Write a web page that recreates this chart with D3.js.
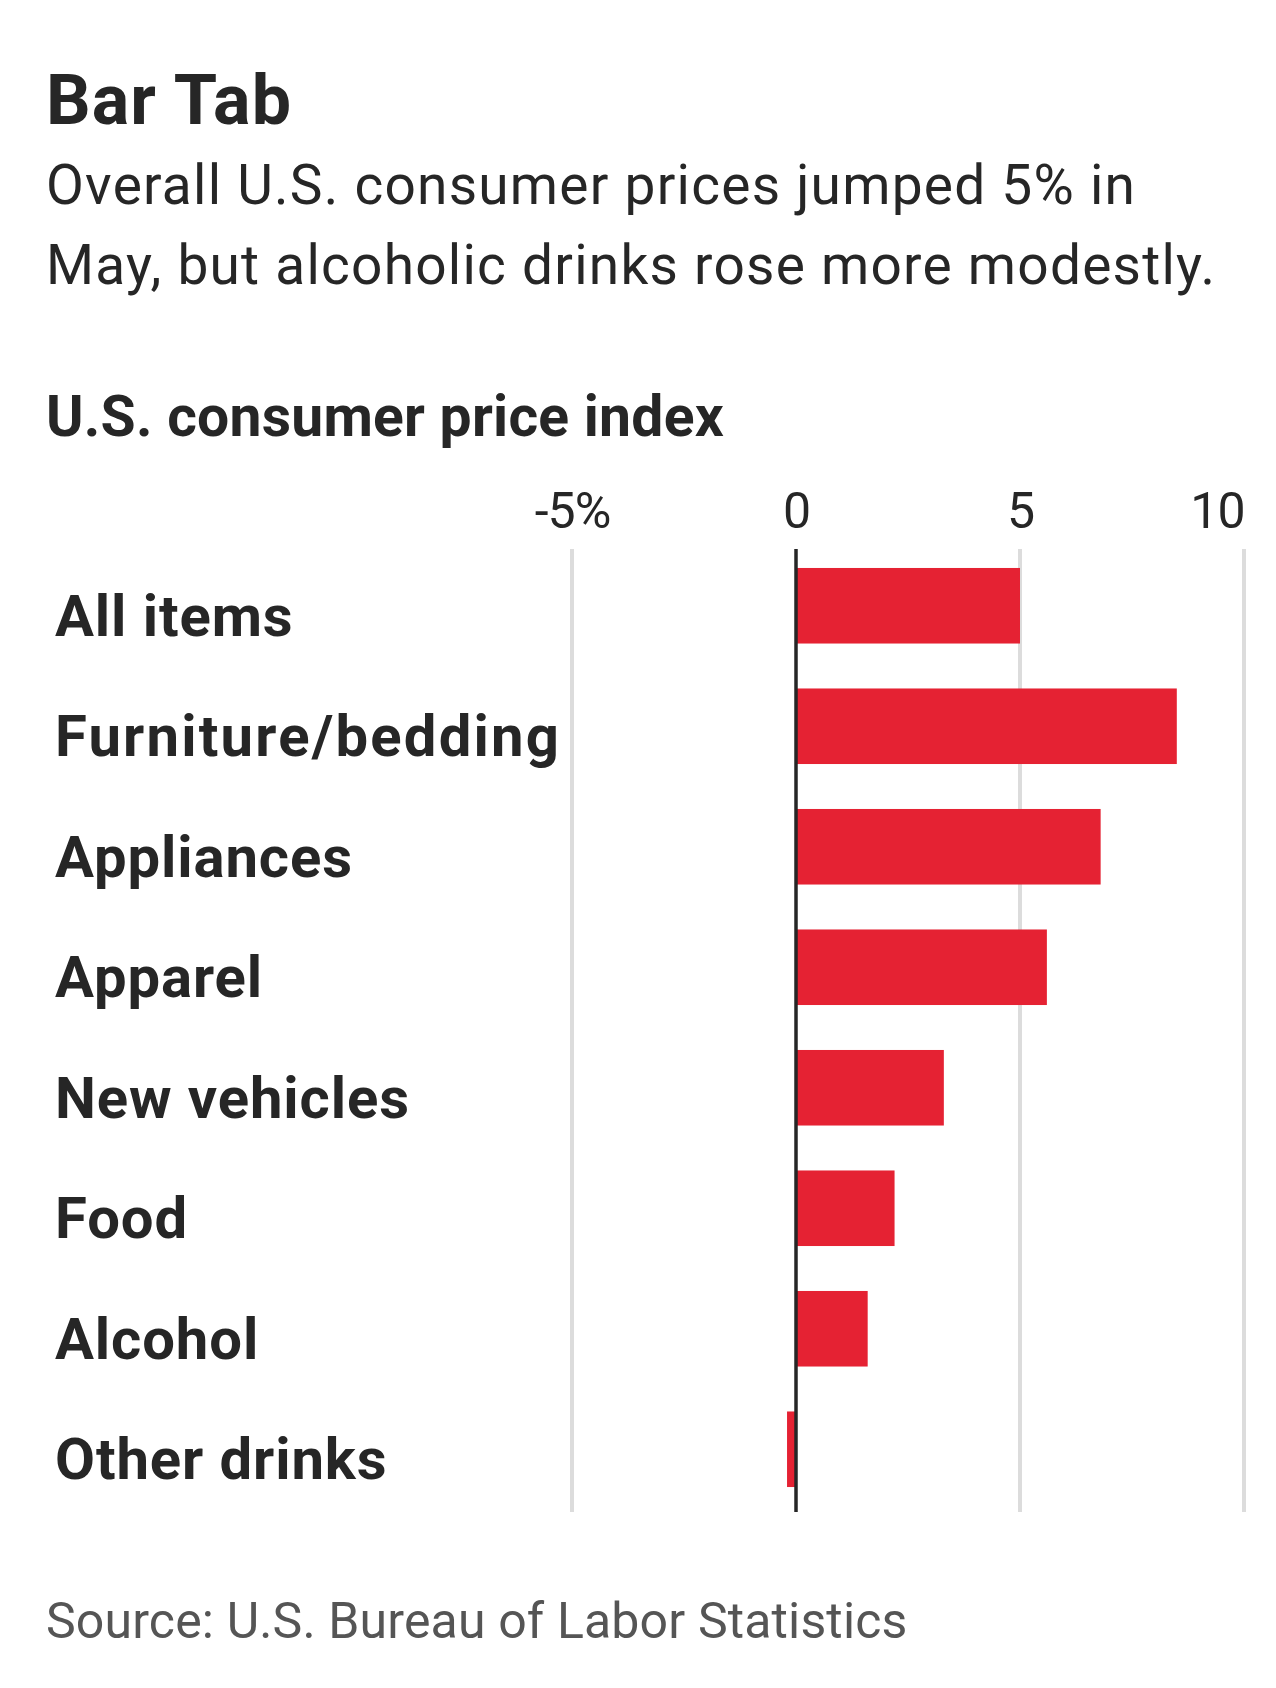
<!DOCTYPE html>
<html>
<head>
<meta charset="utf-8">
<script src="https://cdn.jsdelivr.net/npm/d3@7"></script>
<style>
  html, body { margin: 0; padding: 0; background: #fff; }
  svg text { font-family: Roboto, "Noto Sans", sans-serif; }
</style>
</head>
<body>
<svg id="chart" width="1276" height="1688"></svg>
<script>
const categories = ["All items", "Furniture/bedding", "Appliances", "Apparel", "New vehicles", "Food", "Alcohol", "Other drinks"];
const values = [5.0, 8.5, 6.8, 5.6, 3.3, 2.2, 1.6, -0.2];
const tickValues = [-5, 0, 5, 10];
const tickLabels = ["-5%", "0", "5", "10"];
const title = "Bar Tab";
const subtitleLines = ["Overall U.S. consumer prices jumped 5% in", "May, but alcoholic drinks rose more modestly."];
const chartHeading = "U.S. consumer price index";
const source = "Source: U.S. Bureau of Labor Statistics";

const svg = d3.select("#chart");
const ink = "#262626";
const red = "#e52233";

svg.append("text").attr("x", 46).attr("y", 124)
  .attr("font-size", 70).attr("font-weight", 700).attr("fill", ink)
  .attr("letter-spacing", 1.1)
  .text(title);

svg.selectAll("text.sub").data(subtitleLines).join("text").attr("class", "sub")
  .attr("x", 46).attr("y", (d, i) => 204 + i * 80)
  .attr("font-size", 55).attr("font-weight", 400).attr("fill", ink)
  .attr("letter-spacing", 1.25)
  .text(d => d);

svg.append("text").attr("x", 46).attr("y", 436)
  .attr("font-size", 57).attr("font-weight", 700).attr("fill", ink)
  .attr("letter-spacing", 0.25)
  .text(chartHeading);

const x = d3.scaleLinear().domain([-5, 10]).range([572, 1244]);
const y = d3.scaleBand().domain(categories).range([545.5, 1509.5])
  .paddingInner(0.373).paddingOuter(0.1865);

// gridlines
svg.append("g").selectAll("line").data(tickValues.filter(v => v !== 0)).join("line")
  .attr("x1", d => x(d)).attr("x2", d => x(d))
  .attr("y1", 549).attr("y2", 1512)
  .attr("stroke", "#dcdcdc").attr("stroke-width", 4);

// axis labels
const axis = d3.axisTop(x).tickValues(tickValues)
  .tickFormat((d, i) => tickLabels[i]).tickSize(0).tickPadding(0);
const ax = svg.append("g").attr("transform", "translate(0,528)").call(axis);
ax.select(".domain").remove();
ax.selectAll("text")
  .attr("font-size", 50).attr("fill", ink).attr("font-family", "Roboto, sans-serif")
  .attr("letter-spacing", -1)
  .attr("text-anchor", (d, i) => i === tickValues.length - 1 ? "end" : "middle")
  .attr("dy", 0);

// bars
svg.append("g").selectAll("rect").data(values).join("rect")
  .attr("x", d => x(Math.min(0, d)))
  .attr("width", d => Math.abs(x(d) - x(0)))
  .attr("y", (d, i) => y(categories[i]))
  .attr("height", y.bandwidth())
  .attr("fill", red);

// zero line
svg.append("line")
  .attr("x1", x(0)).attr("x2", x(0))
  .attr("y1", 549).attr("y2", 1512)
  .attr("stroke", ink).attr("stroke-width", 3.5);

// category labels
svg.append("g").selectAll("text").data(categories).join("text")
  .attr("x", 55)
  .attr("y", d => y(d) + y.bandwidth() / 2 + 30)
  .attr("font-size", 58).attr("font-weight", 700).attr("fill", ink)
  .attr("letter-spacing", d => d.includes("/") ? 2.2 : 0.9)
  .text(d => d);

svg.append("text").attr("x", 46).attr("y", 1638)
  .attr("font-size", 50).attr("font-weight", 400).attr("fill", "#555")
  .attr("letter-spacing", 0.15)
  .text(source);
</script>
</body>
</html>
